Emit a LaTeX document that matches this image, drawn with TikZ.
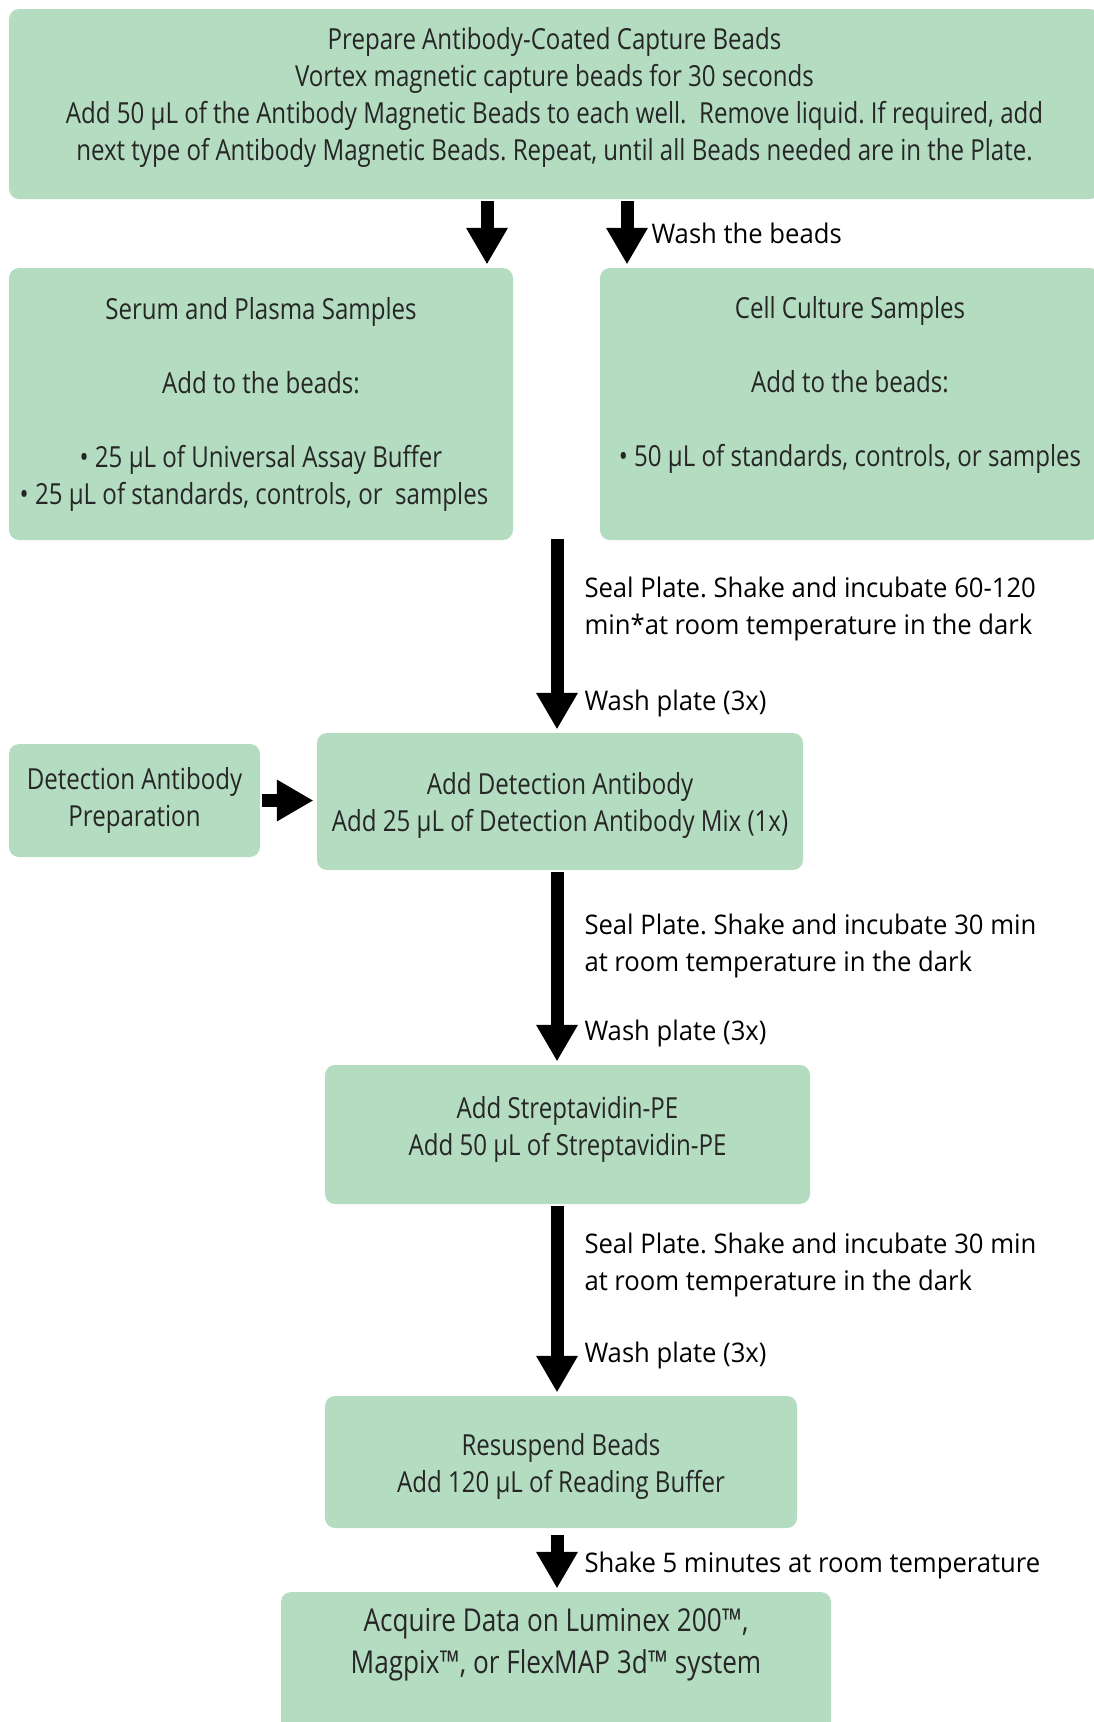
\documentclass[tikz,border=0pt]{standalone}
\usepackage{fontspec}
\setmainfont{Open Sans}
\newfontfamily\boxfont[FakeStretch=0.83]{Open Sans}
\newfontfamily\notefont[FakeStretch=0.95]{Open Sans}
\usetikzlibrary{arrows.meta}
\definecolor{beadgreen}{RGB}{179,220,192}
\frenchspacing

\begin{document}
\begin{tikzpicture}[x=1pt, y=-1pt,
    stage/.style={fill=beadgreen, rounded corners=10pt, align=center, inner sep=0pt,
      text=black!85, font=\boxfont\fontsize{29}{37}\selectfont},
    flow/.style={line width=13pt, -{Triangle[width=42pt, length=36pt, line width=0pt]},
      shorten <=2pt, shorten >=4pt},
    note/.style={anchor=west, xshift=21pt, inner sep=0pt, align=left,
      font=\notefont\fontsize{27}{37}\selectfont}]
    \useasboundingbox (0,0) rectangle (1094,1722);
    \node[stage, minimum width=1091pt, minimum height=190pt] (prep) at (554.5,104)
      {Prepare Antibody-Coated Capture Beads\\ Vortex magnetic capture beads for 30 seconds\\
       Add 50 µL of the Antibody Magnetic Beads to each well.\ \ Remove liquid. If required, add\\
       next type of Antibody Magnetic Beads. Repeat, until all Beads needed are in the Plate.\\[-16pt] \mbox{}};
    \node[stage, minimum width=504pt, minimum height=272pt] (serum) at (261,404)
      {Serum and Plasma Samples\\[37pt] Add to the beads:\\[37pt]
       • 25 µL of Universal Assay Buffer\\ • 25 µL of standards, controls, or\ \ samples\hspace*{14pt}};
    \node[stage, minimum width=500pt, minimum height=272pt] (cell) at (850,404)
      {Cell Culture Samples\\[37pt] Add to the beads:\\[37pt]
       • 50 µL of standards, controls, or samples\\[9pt] \mbox{}};
    \node[stage, minimum width=251pt, minimum height=113pt] (prepdet) at (134.5,800.5)
      {Detection Antibody\\ Preparation};
    \node[stage, minimum width=486pt, minimum height=137pt] (detect) at (560,801.5)
      {\mbox{}\\[-8pt] Add Detection Antibody\\ Add 25 µL of Detection Antibody Mix (1x)};
    \node[stage, minimum width=485pt, minimum height=139pt] (strep) at (567.5,1134.5)
      {Add Streptavidin-PE\\ Add 50 µL of Streptavidin-PE\\[-19pt] \mbox{}};
    \node[stage, minimum width=472pt, minimum height=132pt] (resusp) at (561,1462)
      {\mbox{}\\[-6pt] Resuspend Beads\\ Add 120 µL of Reading Buffer};
    \node[stage, minimum width=550pt, minimum height=140pt,
      font=\boxfont\fontsize{31.5}{42}\selectfont] (acquire) at (556,1662)
      {Acquire Data on Luminex 200™,\\ Magpix™, or FlexMAP 3d™ system\\ \mbox{}};
    \coordinate (split1) at (487,199);
    \coordinate (split2) at (627,199);
    \coordinate (merge) at (557,537);
    \path[flow]
    (split1) edge (split1 |- serum.north)
    (split2) edge node[note, xshift=-3pt] {Wash the beads} (split2 |- cell.north)
    (merge) edge node[note, pos=0.37] {Seal Plate. Shake and incubate 60-120\\ min*at room temperature in the dark}
      node[note, pos=0.85] {Wash plate (3x)} (merge |- detect.north)
    (prepdet.east) edge (prepdet.east -| detect.west)
    (merge |- detect.south) edge node[note, pos=0.387] {Seal Plate. Shake and incubate 30 min\\ at room temperature in the dark}
      node[note, pos=0.837] {Wash plate (3x)} (merge |- strep.north)
    (merge |- strep.south) edge node[note, pos=0.317] {Seal Plate. Shake and incubate 30 min\\ at room temperature in the dark}
      node[note, pos=0.787] {Wash plate (3x)} (merge |- resusp.north)
    (merge |- resusp.south) edge[shorten <=7pt] node[note, pos=0.586] {Shake 5 minutes at room temperature} (merge |- acquire.north)
    ;
\end{tikzpicture}
\end{document}
